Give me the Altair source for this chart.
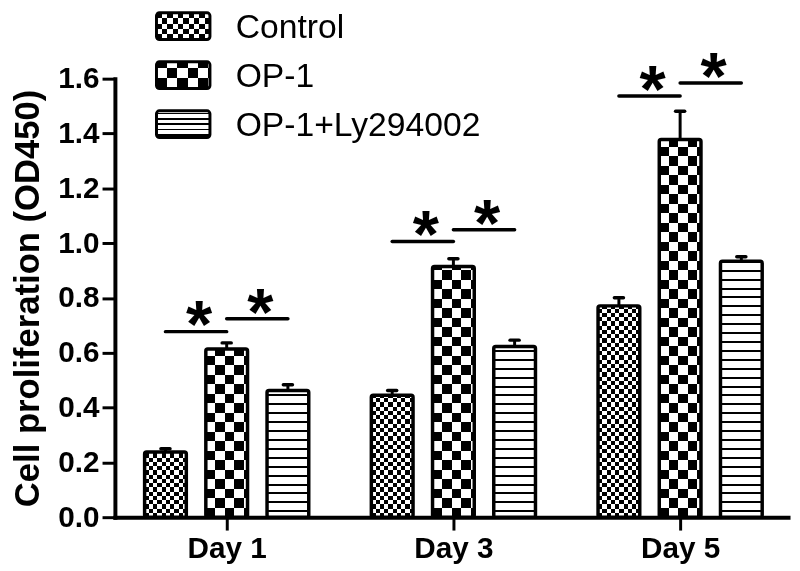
import json
import altair as alt

# ---------------- data ----------------
days = ["Day 1", "Day 3", "Day 5"]
groups = ["Control", "OP-1", "OP-1+Ly294002"]
control_mean = [0.238, 0.445, 0.771]
control_sd = [0.012, 0.017, 0.030]
op1_mean = [0.614, 0.915, 1.378]
op1_sd = [0.022, 0.028, 0.103]
ly_mean = [0.462, 0.623, 0.934]
ly_sd = [0.021, 0.023, 0.016]
sig_ctrl_op1 = [0.677, 1.006, 1.537]   # bracket heights Control vs OP-1
sig_op1_ly = [0.724, 1.049, 1.584]     # bracket heights OP-1 vs OP-1+Ly294002
y_ticks = [0.0, 0.2, 0.4, 0.6, 0.8, 1.0, 1.2, 1.4, 1.6]

# ---------------- layout / style ----------------
FONT = "Liberation Sans"
W, H = 680, 443
Y_DOMAIN = [0, 1.6]
X_DOMAIN = [-0.493, 2.476]
PX_PER_Y = H / (Y_DOMAIN[1] - Y_DOMAIN[0])
PX_PER_X = W / (X_DOMAIN[1] - X_DOMAIN[0])
GROUP_STEP = 0.27
BAR_HALF = 0.092
CAP_HALF = 0.02
BAR_W_PX = 2 * BAR_HALF * PX_PER_X

BAR_PATTERNS = {
    "Control": {"kind": "checker", "cell": 4.3},
    "OP-1": {"kind": "checker", "cell": 9.6},
    "OP-1+Ly294002": {"kind": "stripes", "period": 9.0, "dark": 2.0, "phase": 5.0},
}
LEGEND_PATTERNS = {
    "Control": {"kind": "checker", "cell": 5.4},
    "OP-1": {"kind": "checker", "cell": 10.5},
    "OP-1+Ly294002": {"kind": "stripes", "period": 5.4, "dark": 1.7, "phase": 2.0},
}
BLACK, WHITE = "#000000", "#ffffff"


def band_stops(length, period, dark, phase=0.0, from_end=False):
    intervals = []
    s = phase - period
    while s < length:
        a, b = max(s, 0.0), min(s + dark, length)
        if b > a:
            intervals.append((a, b))
        s += period
    if from_end:
        intervals = [(length - b, length - a) for a, b in intervals]
    intervals.sort()
    stops = []
    for a, b in intervals:
        oa, ob = round(a / length, 5), round(b / length, 5)
        stops += [
            {"offset": oa, "color": WHITE},
            {"offset": oa, "color": BLACK},
            {"offset": ob, "color": BLACK},
            {"offset": ob, "color": WHITE},
        ]
    if not stops:
        stops = [{"offset": 0, "color": WHITE}, {"offset": 1, "color": WHITE}]
    return stops


def gradient(gid, along, length, period, dark, phase=0.0, from_end=False):
    coords = {"x1": 0, "y1": 0, "x2": 1, "y2": 0} if along == "x" else {"x1": 0, "y1": 0, "x2": 0, "y2": 1}
    g = {"id": gid, "gradient": "linear"}
    g.update(coords)
    g["stops"] = band_stops(length, period, dark, phase, from_end)
    return g


def fills(spec, w, h, gid):
    if spec["kind"] == "checker":
        c = spec["cell"]
        base = gradient(gid + "x", "x", w, 2 * c, c, 0.0, False)
        over = gradient(gid + "y", "y", h, 2 * c, c, 0.0, True)
        return base, over
    base = gradient(gid + "s", "y", h, spec["period"], spec["dark"], spec["phase"], True)
    return base, None


# ---------------- bar table ----------------
means = [control_mean, op1_mean, ly_mean]
sds = [control_sd, op1_sd, ly_sd]
bar_rows = []
for i, d in enumerate(days):
    for j, g in enumerate(groups):
        m, s = means[j][i], sds[j][i]
        fb, fo = fills(BAR_PATTERNS[g], BAR_W_PX, m * PX_PER_Y, f"bar{i}{j}")
        bar_rows.append({"day": d, "group": g, "di": i, "gj": j, "mean": m, "sd": s,
                         "fill_base": fb, "fill_over": fo})

sig_rows = []
for i in range(len(days)):
    sig_rows.append({"di": i, "k": 0, "y": sig_ctrl_op1[i]})
    sig_rows.append({"di": i, "k": 1, "y": sig_op1_ly[i]})

xs = alt.Scale(domain=X_DOMAIN, nice=False, zero=False)
ys = alt.Scale(domain=Y_DOMAIN, nice=False, zero=False)

x_axis = alt.Axis(values=[0, 1, 2], labelExpr=f"{json.dumps(days)}[datum.value]",
                  title=None, labelPadding=4)
y_axis = alt.Axis(values=y_ticks, format=".1f", title="Cell proliferation (OD450)",
                  labelPadding=3, titleAngle=270, titleX=-77, titleY=H / 2,
                  titleAlign="center", titleBaseline="alphabetic")


def X(field):
    return alt.X(field, scale=xs, axis=x_axis)


def Y(field):
    return alt.Y(field, scale=ys, axis=y_axis)


bars = alt.Chart(alt.Data(values=bar_rows)).transform_calculate(
    xc=f"datum.di + (datum.gj - 1) * {GROUP_STEP}"
).transform_calculate(
    xl=f"datum.xc - {BAR_HALF}", xr=f"datum.xc + {BAR_HALF}",
    capl=f"datum.xc - {CAP_HALF}", capr=f"datum.xc + {CAP_HALF}",
    top="datum.mean + datum.sd", zero="0",
)

bar_base = bars.mark_rect().encode(
    x=X("xl:Q"), x2="xr:Q", y=Y("mean:Q"), y2="zero:Q",
    fill=alt.Fill("fill_base:N", scale=None),
)
bar_over = bars.transform_filter("datum.fill_over != null").mark_rect(blend="difference").encode(
    x=X("xl:Q"), x2="xr:Q", y=Y("mean:Q"), y2="zero:Q",
    fill=alt.Fill("fill_over:N", scale=None),
)
bar_outline = bars.mark_rect(stroke="black", strokeWidth=3.5, fillOpacity=0,
                             cornerRadius=2, strokeJoin="round").encode(
    x=X("xl:Q"), x2="xr:Q", y=Y("mean:Q"), y2="zero:Q",
)
err_stem = bars.mark_rule(color="black", strokeWidth=3).encode(
    x=X("xc:Q"), y=Y("mean:Q"), y2="top:Q",
)
err_cap = bars.mark_rule(color="black", strokeWidth=3.5, strokeCap="round").encode(
    x=X("capl:Q"), x2="capr:Q", y=Y("top:Q"),
)

sig = alt.Chart(alt.Data(values=sig_rows)).transform_calculate(
    xa=f"datum.di + (datum.k - 1) * {GROUP_STEP}",
    xb=f"datum.di + datum.k * {GROUP_STEP}",
).transform_calculate(xm="(datum.xa + datum.xb) / 2")
sig_lines = sig.mark_rule(color="black", strokeWidth=3.5, strokeCap="round").encode(
    x=X("xa:Q"), x2="xb:Q", y=Y("y:Q"),
)
sig_stars = sig.mark_text(text="*", font=FONT, fontSize=68, fontWeight="bold",
                          color="black", dy=-4, dx=3).encode(
    x=X("xm:Q"), y=Y("y:Q"),
)

# ---------------- hand-made legend (patterned swatches) ----------------
LEG_X0, LEG_X1 = 42, 96
LEG_TOPS = [-66.5, -17, 32.5]
LEG_H = 27
LEG_TEXT_X = 122
LEG_BASELINES = [-41, 8.5, 58]
legend_layers = []
for j, g in enumerate(groups):
    fb, fo = fills(LEGEND_PATTERNS[g], LEG_X1 - LEG_X0, LEG_H, f"leg{j}")
    src = alt.Chart(alt.Data(values=[{"group": g, "fill_base": fb, "fill_over": fo}]))
    pos = dict(x=alt.value(LEG_X0), x2=alt.value(LEG_X1),
               y=alt.value(LEG_TOPS[j]), y2=alt.value(LEG_TOPS[j] + LEG_H))
    legend_layers.append(src.mark_rect().encode(fill=alt.Fill("fill_base:N", scale=None), **pos))
    if fo is not None:
        legend_layers.append(src.mark_rect(blend="difference").encode(
            fill=alt.Fill("fill_over:N", scale=None), **pos))
    legend_layers.append(src.mark_rect(stroke="black", strokeWidth=3, fillOpacity=0,
                                       cornerRadius=3).encode(**pos))
    legend_layers.append(src.mark_text(align="left", baseline="alphabetic", font=FONT,
                                       fontSize=34, color="black").encode(
        x=alt.value(LEG_TEXT_X), y=alt.value(LEG_BASELINES[j]), text="group:N"))

chart = alt.layer(
    bar_base, bar_over, bar_outline, err_stem, err_cap, sig_lines, sig_stars, *legend_layers
).properties(
    width=W, height=H,
    autosize=alt.AutoSizeParams(type="none"),
    padding={"left": 108, "top": 68.5, "right": 4, "bottom": 54},
).configure_view(stroke=None).configure_axis(
    grid=False, domainColor="black", domainWidth=4, domainCap="square",
    tickColor="black", tickWidth=3, tickSize=13,
    labelFont=FONT, labelFontSize=30, labelFontWeight="bold", labelColor="black",
    titleFont=FONT, titleFontSize=35, titleFontWeight="bold", titleColor="black",
)

chart.save("out.html", embed_options={"renderer": "svg", "actions": False})
